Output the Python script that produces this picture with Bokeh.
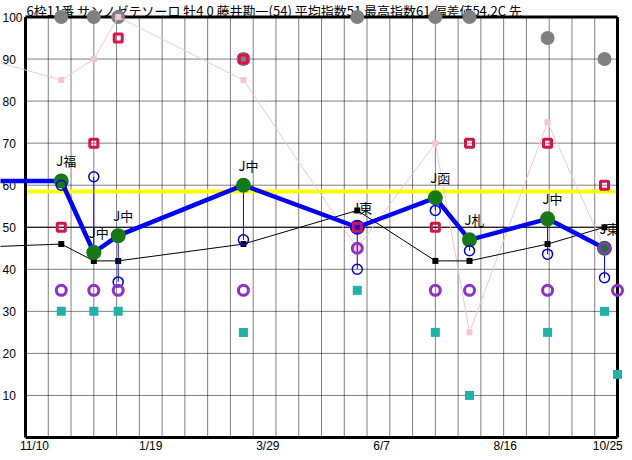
from bokeh.plotting import figure
from bokeh.models import Range1d
from bokeh.core.properties import value
from bokeh.embed import file_html
from bokeh.resources import INLINE

nan = float("nan")

# ---------------- data ----------------
title_text = "6枠11番 サンノゼテソーロ 牡4 0 藤井勘一(54) 平均指数51 最高指数61 偏差値54.2C 先"

x_tick_days = [5.5, 77.0, 149.0, 219.0, 295.0, 358.0]
x_tick_labels = ["11/10", "1/19", "3/29", "6/7", "8/16", "10/25"]
y_ticks = [100, 90, 80, 70, 60, 50, 40, 30, 20, 10]

race_day = [-47, 22, 42, 57, 134, 204, 252, 273, 321, 356, 364]
main_index = [61, 61, 44, 48, 60, 50, 57, 47, 52, 45, nan]
sub_index = [nan, 60, 62, 37, 47, 40, 54, 44.4, 43.6, 38, nan]
avg_index = [45, 46, 42, 42, 46, 54, 42, 42, 46, 50, nan]
pink_vals = [92.5, 85, 90, 100, 85, 45, 70, 25, 75, 45, nan]
red_vals = [nan, 50, 70, 95, 90, 50, 50, 70, 70, 60, nan]
purple_vals = [nan, 35, 35, 35, 35, 45, 35, 35, 35, 45, 35]
teal_vals = [nan, 30, 30, 30, 25, 35, 25, 10, 25, 30, 15]
gray_vals = [nan, 100, 100, 100, 90, 100, 100, 100, 95, 90, nan]
course_labels = ["", "J福", "J中", "J中", "J中", "J東", "J函", "J札", "J中", "J東", ""]
blue_mark = [0, 0, 0, 0, 0, 1, 0, 0, 0, 0, 0]
ref_level = 58.5
solid_level = 50

# ---------------- geometry ----------------
W, H = 624, 452
DAY_MIN, DAY_MAX = 0, 364
Y_MIN, Y_MAX = 0, 100
BOX_LEFT, BOX_RIGHT, BOX_TOP, BOX_BOTTOM = 25, 617, 16.5, 437
PX_DAY = (BOX_RIGHT - BOX_LEFT) / float(DAY_MAX - DAY_MIN)
PX_UNIT = (BOX_BOTTOM - BOX_TOP) / float(Y_MAX - Y_MIN)
x_range = Range1d(DAY_MIN - BOX_LEFT / PX_DAY, DAY_MAX + (W - BOX_RIGHT) / PX_DAY)
y_range = Range1d(Y_MIN - (H - BOX_BOTTOM) / PX_UNIT, Y_MAX + BOX_TOP / PX_UNIT)

JP = value("Noto Sans CJK JP")
LAT = value("Liberation Sans")

p = figure(width=W, height=H, x_range=x_range, y_range=y_range,
           output_backend="svg", toolbar_location=None,
           x_axis_location=None, y_axis_location=None,
           min_border=0, min_border_left=0, min_border_right=0,
           min_border_top=0, min_border_bottom=0)
p.outline_line_color = None
p.background_fill_color = "white"
p.border_fill_color = "white"
p.grid.visible = False

# dotted grid
vdays = list(range(14, DAY_MAX, 14))
p.segment(x0=vdays, y0=[Y_MIN] * len(vdays), x1=vdays, y1=[Y_MAX] * len(vdays),
          line_color="black", line_width=1, line_dash="1 1")
hvals = [v for v in y_ticks if v < Y_MAX]
p.segment(x0=[DAY_MIN] * len(hvals), y0=hvals, x1=[DAY_MAX] * len(hvals), y1=hvals,
          line_color="black", line_width=1, line_dash="1 1")

# reference lines
p.segment(x0=[DAY_MIN], y0=[ref_level], x1=[DAY_MAX], y1=[ref_level],
          line_color="#FFFF00", line_width=4)
p.segment(x0=[DAY_MIN], y0=[solid_level], x1=[DAY_MAX], y1=[solid_level],
          line_color="black", line_width=1)

# y tick labels (left aligned at the picture edge, as in the reference)
p.text(x=[DAY_MIN - 23 / PX_DAY] * len(y_ticks), y=y_ticks,
       text=[str(v) for v in y_ticks], text_align="left", text_baseline="middle",
       text_font=LAT, text_font_size="12px", text_color="black")

# x tick labels
p.text(x=x_tick_days, y=[Y_MIN - 8 / PX_UNIT] * len(x_tick_days),
       text=x_tick_labels, text_align="center", text_baseline="middle",
       text_font=LAT, text_font_size="12px", text_color="black")

# header
p.text(x=[DAY_MIN + 1 / PX_DAY], y=[Y_MAX + 6.5 / PX_UNIT], text=[title_text],
       text_align="left", text_baseline="middle",
       text_font=JP, text_font_size="13px", text_color="black")

# frame border
p.segment(x0=[DAY_MIN, DAY_MAX, DAY_MIN, DAY_MIN], y0=[Y_MIN, Y_MIN, Y_MAX, Y_MIN],
          x1=[DAY_MIN, DAY_MAX, DAY_MAX, DAY_MAX], y1=[Y_MAX, Y_MAX, Y_MAX, Y_MIN],
          line_color="black", line_width=3)

# gray circles
p.scatter(race_day, gray_vals, marker="circle", size=14,
          fill_color="#808080", line_color=None)

# pink line
p.line(race_day, pink_vals, line_color="#F7C4D0", line_width=1)
p.scatter(race_day, pink_vals, marker="square", size=6,
          fill_color="#F7C4D0", line_color=None)

# black line
p.line(race_day, avg_index, line_color="black", line_width=1)
p.scatter(race_day, avg_index, marker="square", size=6,
          fill_color="black", line_color=None)

# thin blue connectors
p.segment(x0=race_day, y0=main_index, x1=race_day, y1=sub_index,
          line_color="#0000FF", line_width=1)

# main index line
p.line(race_day, main_index, line_color="#0000FF", line_width=4.5)
big_colors = ["#0000FF" if b else "#157A15" for b in blue_mark]
p.scatter(race_day, main_index, marker="circle", size=15,
          fill_color=big_colors, line_color=None)

# blue rings
p.scatter(race_day, sub_index, marker="circle", size=10,
          fill_color=None, line_color="#0000DD", line_width=1.5)

# red hollow squares
p.scatter(race_day, red_vals, marker="square", size=8,
          fill_color=None, line_color="#D4144A", line_width=3)

# purple rings
p.scatter(race_day, purple_vals, marker="circle", size=10,
          fill_color=None, line_color="#9030C8", line_width=3)

# teal squares
p.scatter(race_day, teal_vals, marker="square", size=9,
          fill_color="#20B2AA", line_color=None)

# course labels
p.text(x=race_day, y=main_index, text=course_labels,
       x_offset=-5, y_offset=-20, text_align="left", text_baseline="middle",
       text_font=JP, text_font_size="13px", text_color="black")

open("out.html", "w", encoding="utf-8").write(file_html(p, INLINE))
